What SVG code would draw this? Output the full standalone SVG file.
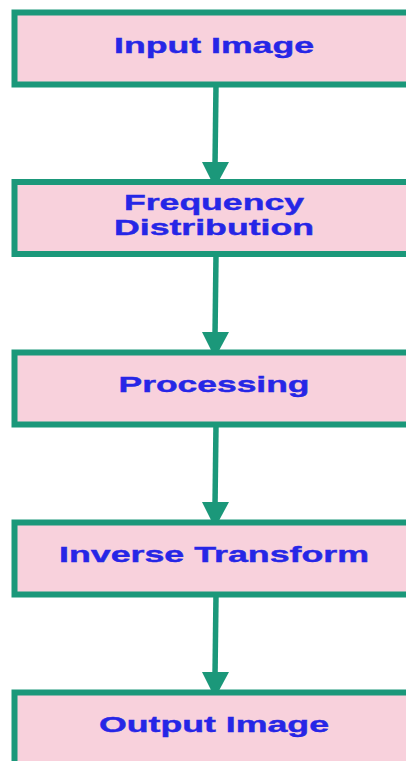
<svg xmlns="http://www.w3.org/2000/svg" width="406" height="761" viewBox="0 0 406 761">
  <style>
    .box { fill: #f8d1dc; stroke: #1b987a; stroke-width: 6; }
    .label { font-family: "Liberation Sans", Arial, sans-serif; font-weight: bold; font-size: 22px; fill: #2626e6; stroke: #2626e6; stroke-width: 0.4; text-anchor: middle; }
    .link { stroke: #1b987a; stroke-width: 5.5; fill: none; }
    .head { fill: #1b987a; }
  </style>
  <rect width="406" height="761" fill="#ffffff"/>

  <g id="connectors">
    <line class="link" x1="216" y1="85" x2="215" y2="166"/>
    <polygon class="head" points="202,162 229,162 215,188"/>
    <line class="link" x1="216" y1="255" x2="215" y2="336"/>
    <polygon class="head" points="202,332 229,332 215,358"/>
    <line class="link" x1="216" y1="425" x2="215" y2="506"/>
    <polygon class="head" points="202,502 229,502 215,528"/>
    <line class="link" x1="216" y1="595" x2="215" y2="676"/>
    <polygon class="head" points="202,672 229,672 215,698"/>
  </g>

  <g id="input-image">
    <rect class="box" x="14.5" y="12.5" width="420" height="72"/>
    <text class="label" x="214" y="53" textLength="200" lengthAdjust="spacingAndGlyphs">Input Image</text>
  </g>

  <g id="frequency-distribution">
    <rect class="box" x="14.5" y="182" width="420" height="72"/>
    <text class="label" x="214" y="210" textLength="180" lengthAdjust="spacingAndGlyphs">Frequency</text>
    <text class="label" x="214" y="235" textLength="200" lengthAdjust="spacingAndGlyphs">Distribution</text>
  </g>

  <g id="processing">
    <rect class="box" x="14.5" y="352.5" width="420" height="72"/>
    <text class="label" x="214" y="392" textLength="191" lengthAdjust="spacingAndGlyphs">Processing</text>
  </g>

  <g id="inverse-transform">
    <rect class="box" x="14.5" y="522.5" width="420" height="72"/>
    <text class="label" x="214" y="562" textLength="310" lengthAdjust="spacingAndGlyphs">Inverse Transform</text>
  </g>

  <g id="output-image">
    <rect class="box" x="14.5" y="692.5" width="420" height="72"/>
    <text class="label" x="214" y="732" textLength="230" lengthAdjust="spacingAndGlyphs">Output Image</text>
  </g>
</svg>
